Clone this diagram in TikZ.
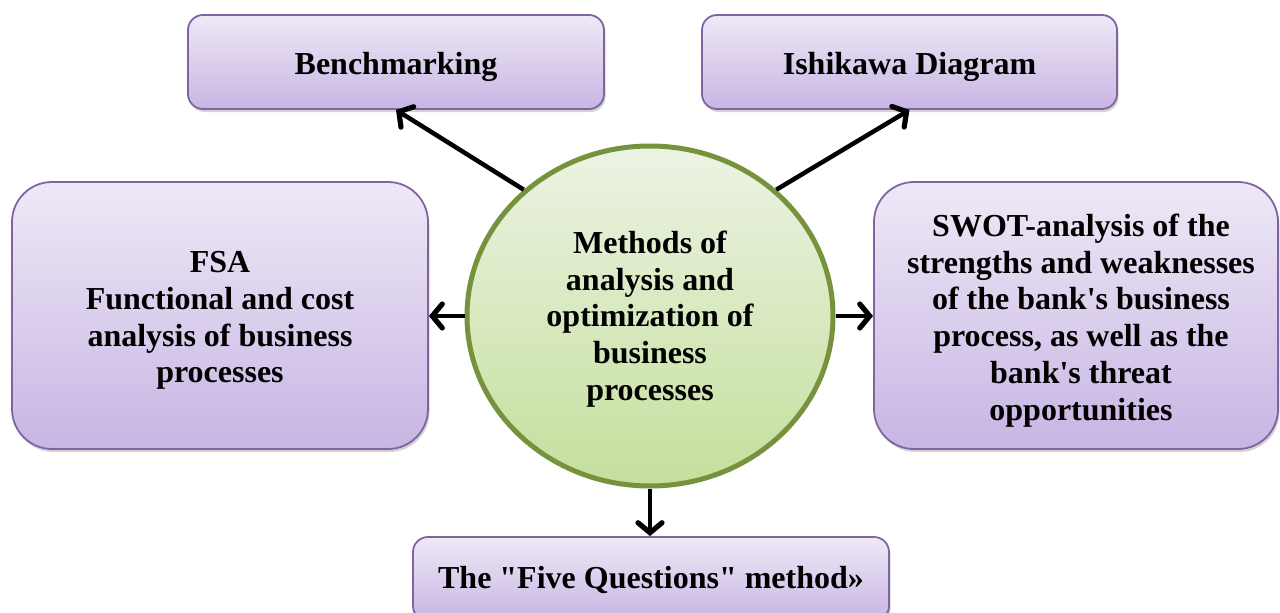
\documentclass[tikz,border=0pt]{standalone}
\usepackage{fontspec}
\setmainfont{Liberation Serif}
\usetikzlibrary{shapes.geometric,arrows.meta,shadows}
\definecolor{boxtop}{RGB}{238,233,246}
\definecolor{boxbot}{RGB}{200,181,228}
\definecolor{boxline}{RGB}{128,100,162}
\definecolor{ctop}{RGB}{236,243,228}
\definecolor{cbot}{RGB}{197,223,156}
\definecolor{cline}{RGB}{118,146,60}
\begin{document}
\begin{tikzpicture}[x=1pt,y=-1pt,
  txt/.style={align=center, font=\fontsize{32}{36.8}\selectfont\bfseries, inner sep=0pt},
  box/.style={draw=boxline, line width=1.8pt, top color=boxtop, bottom color=boxbot,
    drop shadow={opacity=0.35, shadow xshift=1.5pt, shadow yshift=-3pt}},
  hub/.style={ellipse, draw=cline, line width=5pt, top color=ctop, bottom color=cbot},
  link/.style={line width=4.5pt, -{Straight Barb[length=10pt,width=24pt,line width=0pt 1.15,line cap=round]}}]
\useasboundingbox (0,0) rectangle (1280,613);
\node[box, minimum width=416pt, minimum height=94pt, rounded corners=15pt,
  label={[txt, yshift=-5pt]center:Benchmarking}] (bench) at (396,62) {};
\node[box, minimum width=415pt, minimum height=94pt, rounded corners=15pt,
  label={[txt, yshift=-5pt]center:Ishikawa Diagram}] (ishi) at (909.5,62) {};
\node[box, minimum width=416pt, minimum height=267pt, rounded corners=40pt,
  label={[txt, yshift=-5pt]center:{FSA\\Functional and cost\\analysis of business\\processes}}] (fsa) at (220,315.5) {};
\node[box, minimum width=404pt, minimum height=267pt, rounded corners=40pt,
  label={[txt, yshift=-5pt, xshift=5pt]center:{SWOT-analysis of the\\strengths and weaknesses\\of the bank\textquotesingle s business\\process, as well as the\\bank\textquotesingle s threat\\opportunities}}] (swot) at (1076,315.5) {};
\node[box, minimum width=476pt, minimum height=84pt, rounded corners=15pt,
  label={[txt, yshift=-1pt]center:The \textquotedbl Five Questions\textquotedbl\ method»}] (five) at (651,579) {};
\node[hub, minimum width=366pt, minimum height=340pt,
  label={[txt, yshift=-3pt]center:{Methods of\\analysis and\\optimization of\\business\\processes}}] (c) at (650,316) {};
\draw[link] (c.135) -- (bench.south);
\draw[link] (c.45) -- (ishi.south);
\draw[link] (c.west) -- (c.west -| fsa.east);
\draw[link] (c.east) -- (c.east -| swot.west);
\draw[link] (c.south) -- (c.south |- five.north);
\end{tikzpicture}
\end{document}
